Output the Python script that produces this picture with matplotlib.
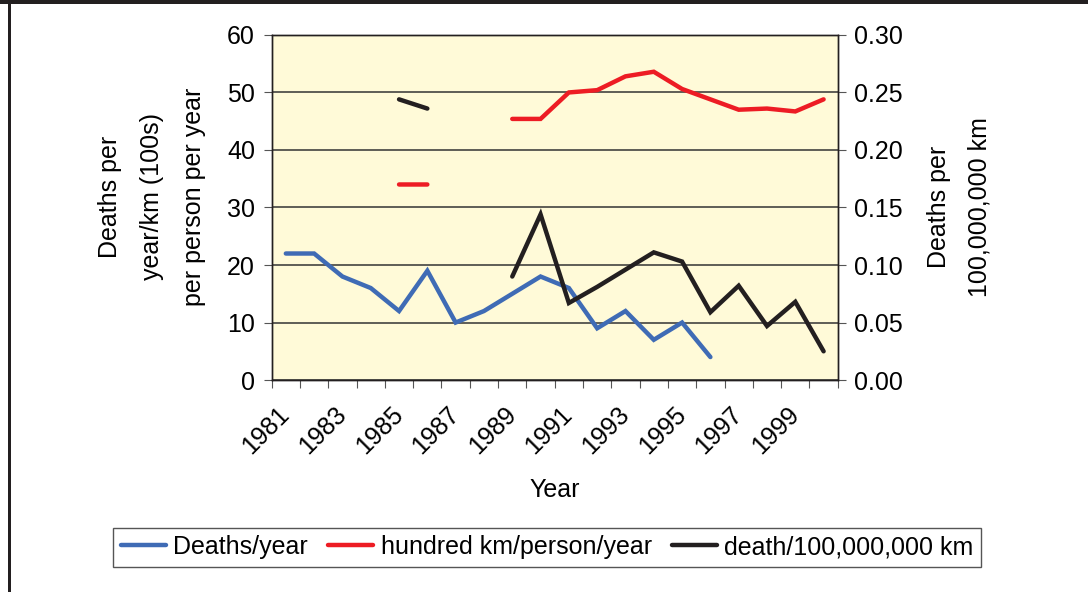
import numpy as np
import matplotlib
matplotlib.use('Agg')
import matplotlib.pyplot as plt
import matplotlib.transforms as mtransforms
from matplotlib.lines import Line2D

plt.rcParams['font.family'] = ['Liberation Sans', 'DejaVu Sans']
plt.rcParams['font.size'] = 18

years = list(range(1981, 2001))
nan = np.nan

# Deaths/year (left axis)
deaths_year = [22, 22, 18, 16, 12, 19, 10, 12, 15, 18,
               16, 9, 12, 7, 10, 4, nan, nan, nan, nan]
# hundred km/person/year (left axis)
hundred_km = [nan, nan, nan, nan, 34, 34, nan, nan, 45.4, 45.4,
              50.0, 50.4, 52.8, 53.6, 50.6, 48.8, 47.0, 47.2, 46.7, 48.8]
# death/100,000,000 km (right axis)
death_per_km = [nan, nan, nan, nan, 0.244, 0.236, nan, nan, 0.090, 0.144,
                0.067, 0.081, 0.096, 0.111, 0.103, 0.059, 0.082, 0.047, 0.068, 0.025]

names = ['Deaths/year', 'hundred km/person/year', 'death/100,000,000 km']
colors = ['#3f6bb5', '#ed1c24', '#231f20']

fig = plt.figure(figsize=(10.88, 5.92), dpi=100)
ax = fig.add_axes([0.2497, 0.358, 0.5203, 0.583])
ax2 = ax.twinx()

x = np.arange(len(years))
ax.set_facecolor('#fffad8')
ax.plot(x, deaths_year, color=colors[0], lw=3.2, solid_capstyle='round', solid_joinstyle='miter', zorder=3)
ax.plot(x, hundred_km, color=colors[1], lw=3.2, solid_capstyle='round', solid_joinstyle='miter', zorder=3)
ax2.plot(x, death_per_km, color=colors[2], lw=3.2, solid_capstyle='round', solid_joinstyle='miter', zorder=3)

ax.set_xlim(-0.5, len(years) - 0.5)
ax.set_ylim(0, 60)
ax2.set_ylim(0, 0.30)
ax.set_yticks(range(0, 61, 10))
ax2.set_yticks(np.arange(0, 0.301, 0.05))
ax2.set_yticklabels(['%.2f' % v for v in np.arange(0, 0.301, 0.05)])
ax.yaxis.grid(True, color='#333333', lw=1.1)
ax.set_axisbelow(True)

# ticks between categories, labels on every other year
ax.set_xticks(np.arange(-0.5, len(years), 1.0))
ax.set_xticklabels([])
ax.set_xticks(x[::2], minor=True)
ax.set_xticklabels([str(y) for y in years[::2]], minor=True, rotation=45,
                   ha='right', va='center', rotation_mode='anchor')
shift = mtransforms.ScaledTranslation(-5 / 100, 0, fig.dpi_scale_trans)
for lbl in ax.get_xticklabels(minor=True):
    lbl.set_transform(lbl.get_transform() + shift)
ax.tick_params(axis='x', which='minor', length=0, pad=22)
ax.tick_params(axis='x', which='major', length=6, color='#555555')
ax.tick_params(axis='y', length=6, color='#555555', pad=6)
ax2.tick_params(axis='y', length=6, color='#555555', pad=6)

for a in (ax, ax2):
    for s in a.spines.values():
        s.set_color('#231f20')
        s.set_linewidth(1.0)

ax.set_xlabel('Year', labelpad=14)
fig.text(0.101, 0.668, 'Deaths per', rotation=90, ha='center', va='center')
fig.text(0.140, 0.668, 'year/km (100s)', rotation=90, ha='center', va='center')
fig.text(0.178, 0.668, 'per person per year', rotation=90, ha='center', va='center')
fig.text(0.863, 0.65, 'Deaths per', rotation=90, ha='center', va='center')
fig.text(0.900, 0.65, '100,000,000 km', rotation=90, ha='center', va='center')

handles = [Line2D([0], [0], color=c, lw=3.2, solid_capstyle='round') for c in colors]
leg = fig.legend(handles, names, loc='center', bbox_to_anchor=(0.503, 0.076), ncol=3,
                 frameon=True, fancybox=False, framealpha=1, edgecolor='#555555',
                 handlelength=1.8, handletextpad=0.3, columnspacing=0.8, borderpad=0.3)
leg.get_frame().set_linewidth(1.0)

# page border (top bar and left rule)
fig.add_artist(plt.Rectangle((0, 1 - 3.5 / 592), 1, 3.5 / 592, transform=fig.transFigure,
                             color='#231f20', lw=0))
fig.add_artist(plt.Rectangle((8 / 1088, 0), 2.5 / 1088, 1, transform=fig.transFigure,
                             color='#231f20', lw=0))

fig.savefig('out.png', dpi=100)
